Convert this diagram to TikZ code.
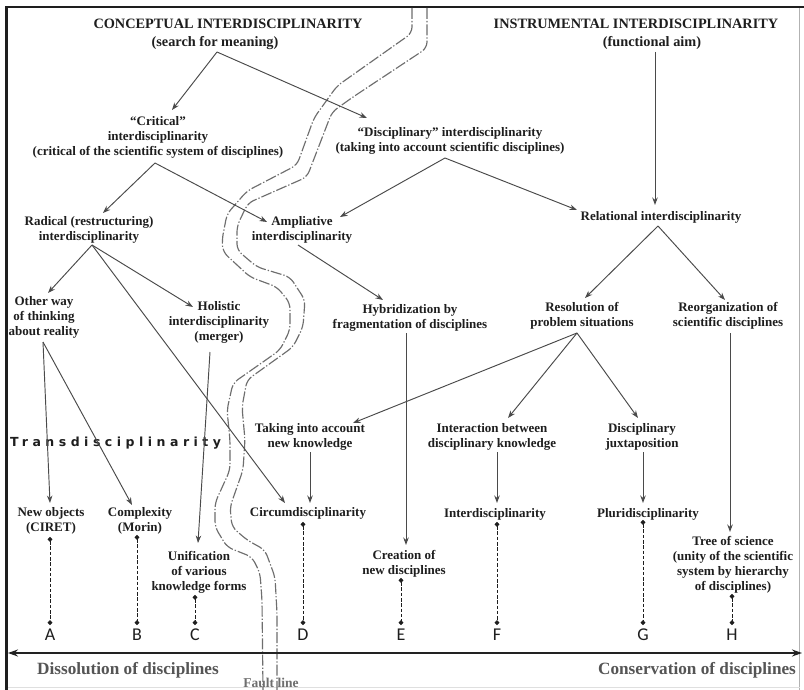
\documentclass[tikz,border=0pt]{standalone}
\usepackage{fontspec}
\setmainfont{Liberation Serif}
\newfontfamily\letterfont{Carlito}
\newfontfamily\spacedfont[LetterSpace=36]{DejaVu Sans}
\usetikzlibrary{arrows.meta,calc}
\definecolor{ink}{HTML}{1e1e1e}
\definecolor{arrowc}{HTML}{4a4a4a}
\definecolor{faultc}{HTML}{6e6e6e}
\definecolor{axisc}{HTML}{222222}
\definecolor{sidec}{HTML}{555555}

\begin{document}
\begin{tikzpicture}[x=1pt,y=-1pt,
  lbl/.style={align=center,font=\fontsize{13}{15}\selectfont\bfseries,text=ink,inner sep=1pt},
  head/.style={font=\fontsize{14.3}{17}\selectfont\bfseries,text=ink,inner sep=1pt},
  letter/.style={font=\fontsize{18}{19}\selectfont\letterfont,text=ink,inner sep=0pt},
  side/.style={font=\fontsize{17.2}{19}\selectfont\bfseries,text=sidec,inner sep=0pt},
  arr/.style={draw=arrowc,line width=0.95pt,-{Stealth[length=7.5pt,width=5.5pt]}},
  dl/.style={draw=ink,line width=0.9pt,dash pattern=on 3.5pt off 1.8pt,
             {Circle[length=4.6pt]}-{Circle[length=4.6pt]}},
  fault/.style={draw=faultc,line width=1.15pt,rounded corners=6pt,
                dash pattern=on 11pt off 2pt on 1.3pt off 2pt},
  axisline/.style={draw=axisc,line width=2.6pt,
                   {Stealth[length=10pt,width=7pt]}-{Stealth[length=10pt,width=7pt]}}]

% page and frame
\fill[white] (0,0) rectangle (804,690);
\useasboundingbox (0,0) rectangle (804,690);
\draw[gray!60,line width=0.8pt] (799.5,7) -- (799.5,690);
\draw[gray!25,line width=0.6pt] (8,687.5) -- (799.5,687.5);
\draw[ink,line width=2.8pt] (6.5,690) -- (6.5,7) -- (804,7);

% the fault line: two dash-dotted borders
\draw[fault] (412,8) -- (412,33) -- (337,86) -- (314,118) -- (297,165) -- (247,191)
  -- (227,214) -- (222,240) -- (223,252) -- (250,277) -- (277,287) -- (290,303)
  -- (290,330) -- (280,350) -- (233,383) -- (227,410) -- (230,440) -- (230,470)
  -- (215,503) -- (215,527) -- (227,547) -- (252,557) -- (260,573) -- (262,600) -- (263,690);
\draw[fault] (427,8) -- (427,48) -- (353,97) -- (332,112) -- (307,177) -- (248,203)
  -- (237,226) -- (237,250) -- (257,267) -- (290,277) -- (305,300) -- (303,327)
  -- (293,347) -- (247,380) -- (242,407) -- (245,440) -- (243,470) -- (230,507)
  -- (232,527) -- (247,540) -- (265,550) -- (275,577) -- (277,613) -- (277,690);

% headings
\node[head] (ctitle) at (228,24) {CONCEPTUAL INTERDISCIPLINARITY};
\node[head] (csub) at (215,43) {(search for meaning)};
\node[head] (ititle) at (636,24) {INSTRUMENTAL INTERDISCIPLINARITY};
\node[head] (isub) at (652,43) {(functional aim)};

% concepts
\node[lbl] (crit) at (158,137) {“Critical”\\interdisciplinarity\\(critical of the scientific system of disciplines)};
\node[lbl] (disc) at (450,141) {“Disciplinary” interdisciplinarity\\(taking into account scientific disciplines)};
\node[lbl] (rel) at (661,217) {Relational interdisciplinarity};
\node[lbl] (rad) at (89,230) {Radical (restructuring)\\interdisciplinarity};
\node[lbl] (amp) at (302,230) {Ampliative\\interdisciplinarity};
\node[lbl] (other) at (44,317) {Other way\\of thinking\\about reality};
\node[lbl] (hol) at (219,322) {Holistic\\interdisciplinarity\\(merger)};
\node[lbl] (hyb) at (410,318) {Hybridization by\\fragmentation of disciplines};
\node[lbl] (res) at (582,316) {Resolution of\\problem situations};
\node[lbl] (reo) at (728,316) {Reorganization of\\scientific disciplines};
\node[lbl] (tak) at (310,437) {Taking into account\\new knowledge};
\node[lbl] (inter) at (492,437) {Interaction between\\disciplinary knowledge};
\node[lbl] (juxt) at (642,437) {Disciplinary\\juxtaposition};
\node[lbl] (newo) at (51,521) {New objects\\(CIRET)};
\node[lbl] (comp) at (140,521) {Complexity\\(Morin)};
\node[lbl] (unif) at (199,572) {Unification\\of various\\knowledge forms};
\node[lbl] (circ) at (308,513) {Circumdisciplinarity};
\node[lbl] (creat) at (404,564) {Creation of\\new disciplines};
\node[lbl] (idis) at (495,514) {Interdisciplinarity};
\node[lbl] (pluri) at (648,514) {Pluridisciplinarity};
\node[lbl] (tree) at (733,565) {Tree of science\\(unity of the scientific\\system by hierarchy\\of disciplines)};

\node[inner sep=0pt,anchor=west,text=ink,font=\fontsize{12.5}{14}\selectfont\spacedfont\bfseries] (trans) at (10,443) {Transdisciplinarity};

% scale letters
\node[letter] (A) at (50,635) {A};
\node[letter] (B) at (137,635) {B};
\node[letter] (C) at (195,635) {C};
\node[letter] (D) at (303,635) {D};
\node[letter] (E) at (401,635) {E};
\node[letter] (F) at (497,635) {F};
\node[letter] (G) at (643,635) {G};
\node[letter] (H) at (732,635) {H};

% arrows
\draw[arr] ($(csub)+(2,9)$) -- ($(crit)+(14,-27)$);
\draw[arr] ($(csub)+(2,9)$) -- ($(disc)+(-83,-23)$);
\draw[arr] ($(crit)+(-3,26)$) -- ($(rad)+(14,-17)$);
\draw[arr] ($(crit)+(-3,26)$) -- ($(amp)+(-35,-8)$);
\draw[arr] ($(disc)+(-5,17)$) -- ($(amp)+(38,-13)$);
\draw[arr] ($(disc)+(-5,17)$) -- ($(rel)+(-84,-7)$);
\draw[arr] ($(isub)+(3,9)$) -- ($(rel)+(-6,-12)$);
\draw[arr] ($(rad)+(3,15)$) -- ($(other)+(4,-24)$);
\draw[arr] ($(rad)+(3,15)$) -- ($(hol)+(-26,-15)$);
\draw[arr] ($(rad)+(3,15)$) -- ($(circ)+(-23,-10)$);
\draw[arr] ($(amp)+(-4,15)$) -- ($(hyb)+(-27,-18)$);
\draw[arr] ($(rel)+(-3,9)$) -- ($(res)+(3,-18)$);
\draw[arr] ($(rel)+(-3,9)$) -- ($(reo)+(-3,-16)$);
\draw[arr] ($(other)+(-1,25)$) -- ($(newo)+(-1,-18)$);
\draw[arr] ($(other)+(-1,25)$) -- ($(comp)+(-8,-16)$);
\draw[arr] ($(hol)+(-9,30)$) -- ($(unif)+(-1,-29)$);
\draw[arr] ($(hyb)+(-4,15)$) -- ($(creat)+(2,-19)$);
\draw[arr] ($(res)+(-5,17)$) -- ($(tak)+(43,-14)$);
\draw[arr] ($(res)+(-5,17)$) -- ($(inter)+(16,-19)$);
\draw[arr] ($(res)+(-5,17)$) -- ($(juxt)+(-4,-19)$);
\draw[arr] ($(reo)+(2,17)$) -- ($(tree)+(-3,-33)$);
\draw[arr] ($(tak)+(0,15)$) -- ($(circ)+(2,-10)$);
\draw[arr] ($(inter)+(5,15)$) -- ($(idis)+(2,-11)$);
\draw[arr] ($(juxt)+(1,15)$) -- ($(pluri)+(-5,-11)$);

% dotted links down to the scale
\draw[dl] ($(newo)+(-1,16)$) -- ($(A)+(0,-10)$);
\draw[dl] ($(comp)+(-3,14)$) -- ($(B)+(0,-10)$);
\draw[dl] ($(unif)+(-4,23)$) -- ($(C)+(0,-10)$);
\draw[dl] ($(circ)+(-5,9)$) -- ($(D)+(0,-10)$);
\draw[dl] ($(creat)+(-3,14)$) -- ($(E)+(0,-10)$);
\draw[dl] ($(idis)+(2,8)$) -- ($(F)+(0,-10)$);
\draw[dl] ($(pluri)+(-5,6)$) -- ($(G)+(0,-10)$);
\draw[dl] ($(tree)+(-1,29)$) -- ($(H)+(0,-10)$);

% axis
\coordinate (axL) at (8,653);
\coordinate (axR) at (802,653);
\draw[axisline] (axL) -- (axR);
\node[side] (diss) at (128,670) {Dissolution of disciplines};
\node[side] (cons) at (697,670) {Conservation of disciplines};
\node[font=\fontsize{13.5}{15}\selectfont\bfseries,text=faultc,inner sep=0pt] (fl) at (271,683) {Fault line};
\end{tikzpicture}
\end{document}
